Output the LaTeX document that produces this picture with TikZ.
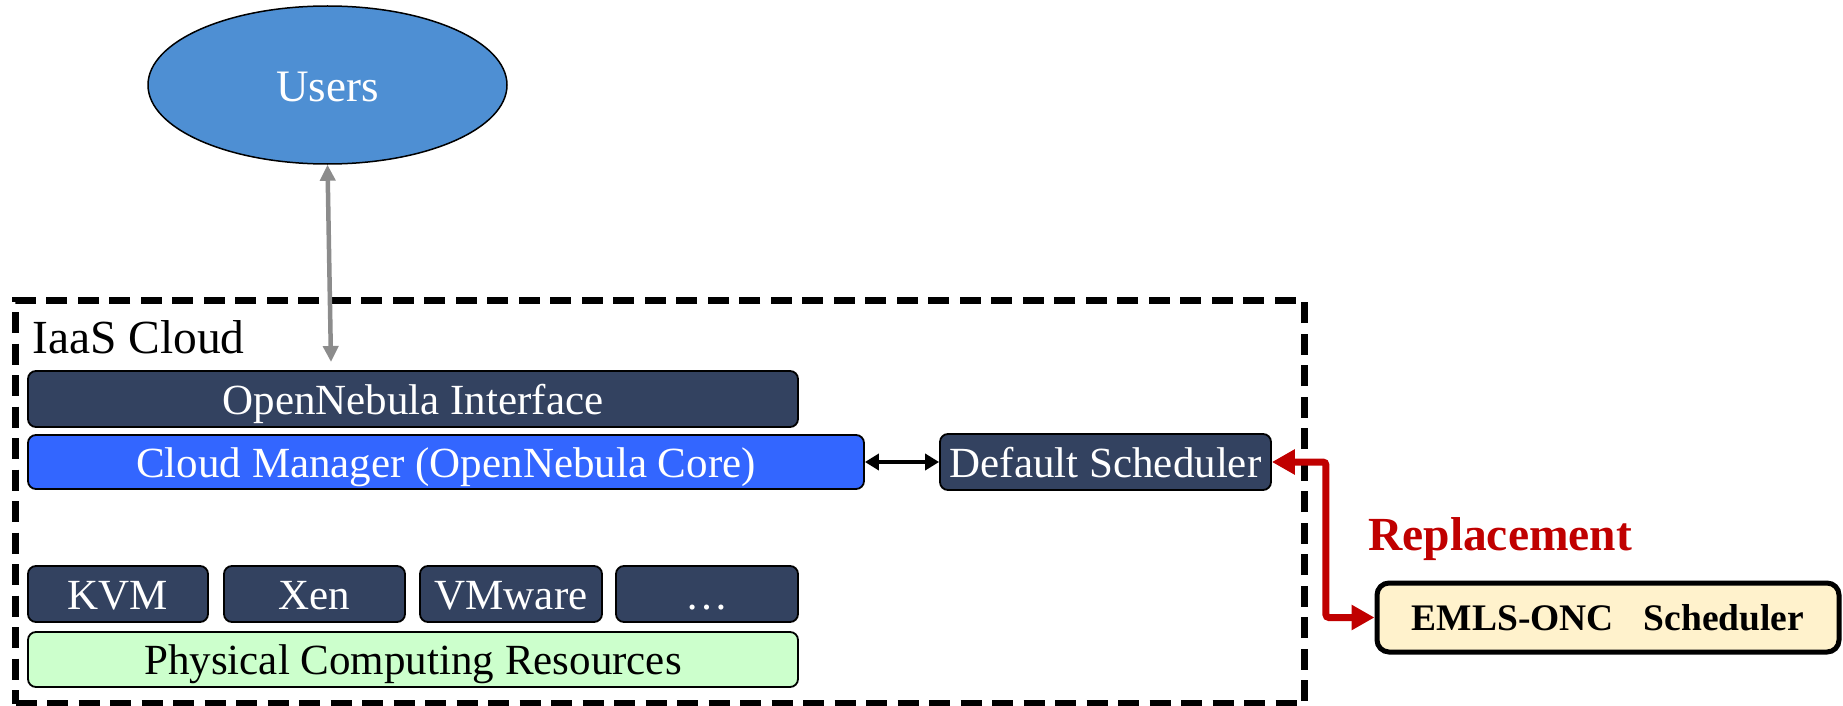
\documentclass[tikz,border=0pt]{standalone}
\usepackage{fontspec}
\setmainfont{Liberation Serif}
\usetikzlibrary{arrows.meta,shapes.geometric}
\definecolor{usersblue}{HTML}{4E8FD3}
\definecolor{slate}{HTML}{334260}
\definecolor{cmblue}{HTML}{3366FF}
\definecolor{physgreen}{HTML}{CCFFCC}
\definecolor{repred}{HTML}{C00000}
\definecolor{emlsfill}{HTML}{FFF2CC}
\definecolor{arrowgray}{HTML}{8C8C8C}
\begin{document}
\begin{tikzpicture}[x=1pt,y=-1pt,
  layer/.style={draw=black, line width=1.8pt, rounded corners=8pt, inner sep=0pt,
    text height=30pt, text depth=0pt, font=\fontsize{43}{50}\selectfont},
  darklayer/.style={layer, fill=slate, text=white},
  cloudframe/.style={draw=black, line width=7pt, dash pattern=on 21pt off 10.5pt, inner sep=0pt},
  grayarrow/.style={draw=arrowgray, line width=4.5pt, {Triangle[length=16pt,width=15pt]}-{Triangle[length=16pt,width=15pt]}},
  blackarrow/.style={draw=black, line width=4pt, {Triangle[length=14pt,width=16pt]}-{Triangle[length=14pt,width=16pt]}},
  redarrow/.style={draw=repred, line width=7pt, rounded corners=3pt, {Triangle[length=23pt,width=24pt]}-{Triangle[length=23pt,width=24pt]}}
]
\useasboundingbox (0,0) rectangle (1843,706);

% container
\node[cloudframe, anchor=north west, minimum width=1289pt, minimum height=403pt] (cloud) at (12,297) {};
\node[anchor=base west, inner sep=0pt, font=\fontsize{47.5}{55}\selectfont] (iaas) at (32,353) {IaaS Cloud};

% users
\node[ellipse, draw=black, line width=1.5pt, fill=usersblue, minimum width=359pt, minimum height=158pt,
  inner sep=0pt, text=white, text height=34pt, text depth=0pt, font=\fontsize{45}{52}\selectfont] (users) at (327.5,85) {Users};
\coordinate (ui) at (331,362);

% layers
\node[darklayer, minimum width=770pt, minimum height=56pt] (oni) at (413,399) {OpenNebula Interface};
\node[layer, fill=cmblue, text=white, minimum width=836pt, minimum height=54pt] (cm) at (446,462) {Cloud Manager (OpenNebula Core)};
\node[darklayer, minimum width=331pt, minimum height=56pt] (ds) at (1105.5,462) {Default Scheduler};
\node[darklayer, minimum width=180pt, minimum height=56pt] (kvm) at (118,594) {KVM};
\node[darklayer, minimum width=181pt, minimum height=56pt] (xen) at (314.5,594) {Xen};
\node[darklayer, minimum width=182pt, minimum height=56pt] (vmw) at (511,594) {VMware};
\node[darklayer, minimum width=182pt, minimum height=56pt] (dots) at (707,594) {\dots};
\node[layer, fill=physgreen, text=black, minimum width=770pt, minimum height=55pt] (phys) at (413,659.5) {Physical Computing Resources};

% EMLS
\node[draw=black, line width=5pt, rounded corners=12pt, fill=emlsfill, minimum width=462pt, minimum height=69pt,
  inner sep=0pt, text height=25pt, text depth=0pt, font=\bfseries\fontsize{37.5}{44}\selectfont] (emls) at (1608,617.5) {EMLS-ONC\hspace{30pt}Scheduler};
\node[anchor=base west, inner sep=0pt, text=repred, font=\bfseries\fontsize{47.5}{55}\selectfont] (repl) at (1368,550) {Replacement};

% connectors
\draw[grayarrow] (users.south) -- (ui);
\draw[blackarrow] (cm.east) -- (ds.west);
\draw[redarrow] (ds.east) -- ++(54,0) |- (emls.west);
\end{tikzpicture}
\end{document}
